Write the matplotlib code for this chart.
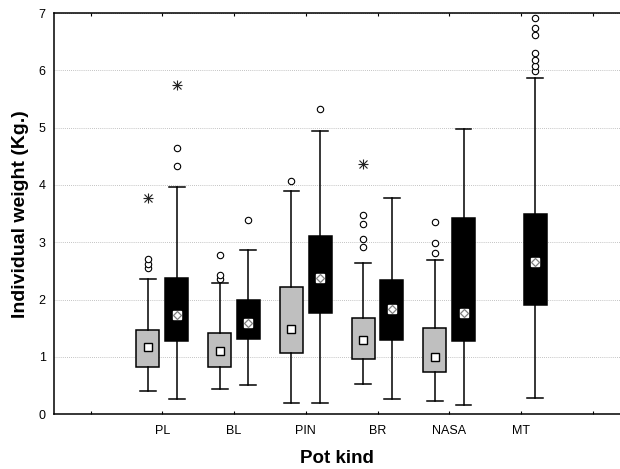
import matplotlib
matplotlib.use('Agg')
import numpy as np
from matplotlib import pyplot as plt

plt.rcParams['font.family'] = ['Liberation Sans', 'DejaVu Sans']

# Pot kinds on the x axis (positions 1..6, empty ticks at 0 and 7)
kinds = ['PL', 'BL', 'PIN', 'BR', 'NASA', 'MT']

# Gray boxes (no gray box for MT)
grayMed = [1.17, 1.10, 1.48, 1.29, 1.00]
grayQ1 = [0.82, 0.82, 1.06, 0.96, 0.73]
grayQ3 = [1.47, 1.41, 2.22, 1.68, 1.50]
grayLo = [0.40, 0.44, 0.19, 0.52, 0.23]
grayHi = [2.36, 2.29, 3.89, 2.64, 2.69]
grayOut = [[2.55, 2.62, 2.70], [2.36, 2.42, 2.78], [4.07],
           [2.92, 3.05, 3.32, 3.48], [2.81, 2.99, 3.35]]
grayExt = [[3.77], [], [], [4.37], []]

# Black boxes
blackMed = [1.73, 1.59, 2.37, 1.83, 1.76, 2.66]
blackQ1 = [1.27, 1.31, 1.77, 1.29, 1.27, 1.90]
blackQ3 = [2.37, 1.99, 3.11, 2.35, 3.42, 3.49]
blackLo = [0.26, 0.51, 0.19, 0.26, 0.16, 0.28]
blackHi = [3.97, 2.86, 4.95, 3.77, 4.97, 5.87]
blackOut = [[4.34, 4.64], [3.39], [5.33], [], [],
            [5.99, 6.07, 6.18, 6.30, 6.61, 6.74, 6.91]]
blackExt = [[5.74], [], [], [], [], []]


def makeStats(med, q1, q3, lo, hi):
    return [dict(med=m, q1=a, q3=b, whislo=l, whishi=h, fliers=[])
            for (m, a, b, l, h) in zip(med, q1, q3, lo, hi)]


def drawGroup(ax, pos, stats, face, outs, exts, medEdge, medMarker):
    ax.bxp(stats, positions=pos, widths=0.32, patch_artist=True,
           showfliers=False, manage_ticks=False,
           boxprops=dict(facecolor=face, edgecolor='black', linewidth=1.1),
           whiskerprops=dict(color='black', linewidth=1.1),
           capprops=dict(color='black', linewidth=1.1),
           capwidths=0.22,
           medianprops=dict(linestyle='none'), zorder=3)
    for (p, s, o, e) in zip(pos, stats, outs, exts):
        ax.plot([p], [s['med']], marker='s', ms=5.5, mfc='white',
                mec=medEdge, mew=1.0, linestyle='none', zorder=5)
        if medMarker:
            ax.plot([p], [s['med']], marker='D', ms=3.8, mfc='white',
                    mec='#808080', mew=0.9, linestyle='none', zorder=6)
        if o:
            ax.plot([p] * len(o), o, marker='o', ms=4.6, mfc='white',
                    mec='black', mew=0.8, linestyle='none', zorder=4)
        if e:
            ax.plot([p] * len(e), e, marker='+', ms=7, color='#222222',
                    mew=0.8, linestyle='none', zorder=4)
            ax.plot([p] * len(e), e, marker='x', ms=5.5, color='#222222',
                    mew=0.8, linestyle='none', zorder=4)


fig = plt.figure(figsize=(6.2, 4.69), dpi=100)
ax = fig.add_axes([0.087, 0.117, 0.913, 0.855])

x = np.arange(1, len(kinds) + 1)
drawGroup(ax, x[:len(grayMed)] - 0.2,
          makeStats(grayMed, grayQ1, grayQ3, grayLo, grayHi),
          '#bfbfbf', grayOut, grayExt, 'black', False)
drawGroup(ax, x + 0.2,
          makeStats(blackMed, blackQ1, blackQ3, blackLo, blackHi),
          'black', blackOut, blackExt, 'white', True)

ax.set_xlim(-0.51, 7.38)
ax.set_ylim(0, 7)
ax.set_xticks(np.arange(0, 8))
ax.set_xticklabels([''] + kinds + [''], fontsize=9)
ax.set_yticks(np.arange(0, 8))
ax.tick_params(axis='x', direction='in', length=2.5, width=0.8,
               top=True, pad=8)
ax.tick_params(axis='y', length=0, pad=6, labelsize=9)
ax.yaxis.grid(True, linestyle=(0, (1, 1.5)), color='#b0b0b0', linewidth=0.6)
ax.set_axisbelow(True)
for side in ['left', 'bottom', 'top']:
    ax.spines[side].set_linewidth(1.1)
ax.spines['right'].set_visible(False)

ax.set_xlabel('Pot kind', fontsize=13.5, fontweight='bold', labelpad=9)
ax.set_ylabel('Individual weight (Kg.)', fontsize=14, fontweight='bold',
              labelpad=7)

fig.savefig('out.png', dpi=100)
